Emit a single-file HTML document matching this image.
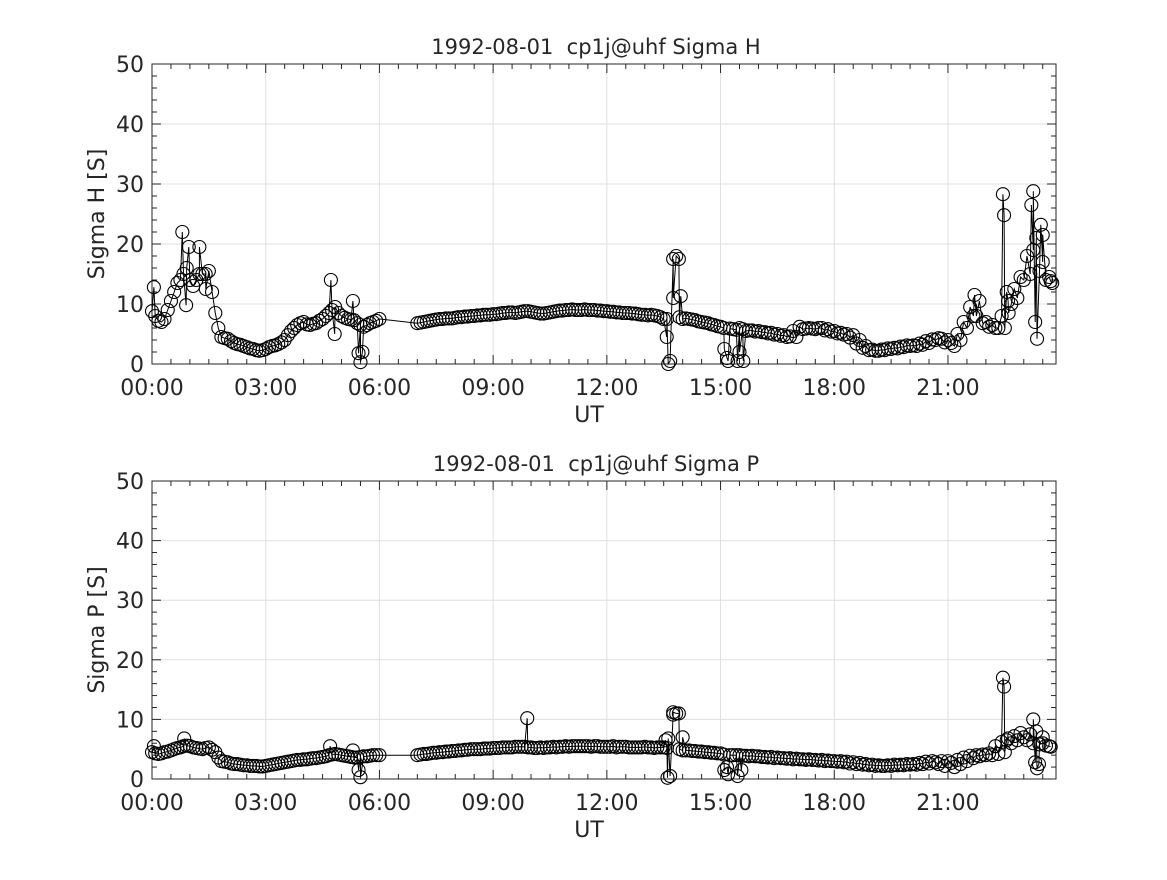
<!DOCTYPE html>
<html><head><meta charset="utf-8"><style>
body{margin:0;background:#fff;}
svg text{font-family:"DejaVu Sans","Liberation Sans",sans-serif;fill:#262626;}
</style></head><body>
<svg id="fig" width="1167" height="875" xmlns="http://www.w3.org/2000/svg"></svg>
<script>
const baseTH=[0,0.17,0.33,0.5,0.67,0.83,1.0,1.17,1.33,1.5,1.67,1.83,2.0,2.17,2.33,2.5,2.67,2.83,3.0,3.17,3.33,3.5,3.67,3.83,4.0,4.17,4.33,4.5,4.67,4.83,5.0,5.17,5.33,5.5,5.67,5.83,6.0,
7.0,7.17,7.33,7.5,7.67,7.83,8.0,8.17,8.33,8.5,8.67,8.83,9.0,9.17,9.33,9.5,9.67,9.83,10.0,10.17,10.33,10.5,10.67,10.83,11.0,11.17,11.33,11.5,11.67,11.83,12.0,12.17,12.33,12.5,12.67,12.83,13.0,13.17,13.33,13.5,13.67,13.83,14.0,14.17,14.33,14.5,14.67,14.83,15.0,15.17,15.33,15.5,15.67,15.83,16.0,16.17,16.33,16.5,16.67,16.83,17.0,17.17,17.33,17.5,17.67,17.83,18.0,18.17,18.33,18.5,18.67,18.83,19.0,19.17,19.33,19.5,19.67,19.83,20.0,20.17,20.33,20.5,20.67,20.83,21.0,21.17,21.33,21.5,21.67,21.83,22.0,22.17,22.33,22.5,22.67,22.83,23.0,23.17,23.33,23.5,23.67,23.75];
const baseVH=[8.8,7.2,7.5,10.5,13.5,15,14,14,15,15.5,8.5,4.5,4.2,3.5,3.2,2.8,2.5,2.2,2.5,3,3.3,4,5.5,6.5,7,6.5,6.8,7.5,8.5,9.5,8,7.5,7.3,6.5,6.5,7,7.5,
6.8,7,7.2,7.4,7.5,7.6,7.7,7.8,7.9,8,8.1,8.2,8.3,8.4,8.5,8.6,8.6,8.8,8.7,8.5,8.4,8.6,8.8,8.9,9,9,9,9,9,8.9,8.8,8.7,8.6,8.5,8.4,8.3,8.2,8.2,8,7.5,0.5,18,7.5,7.5,7.3,7,6.8,6.5,6.2,1,5.8,6,5.5,5.6,5.5,5.3,5.2,5,4.8,4.6,4.5,5.8,6,5.8,6,5.8,5.5,5.2,5,4.8,4,3,2.4,2.2,2.3,2.5,2.6,2.8,3,3,3.2,3.5,4,4.2,4,3,4,6,8,10.5,7,6.5,6,6,10,11,14,15,21,17,14.5,13.5];
const midVH=[8,7,9,12,14,16,13,15,15,12,6,4.3,3.8,3.3,3,2.6,2.3,2.3,2.8,3.1,3.6,4.8,6,6.8,6.6,6.7,7.2,8,9,8.5,7.7,7.4,6.8,6.2,6.8,7.2,
6.9,7.1,7.3,7.5,7.6,7.6, 7.8,7.9,8,8.1,8.2,8.2, 8.3,8.5,8.6,8.5,8.7,8.8, 8.6,8.4,8.5,8.7,8.9,9, 9.1,9,9.1,9,8.9,8.8, 8.7,8.6,8.5,8.5,8.4,8.2,
8.1,8.1,7.8,7.5,17.5,7.8, 7.6,7.4,7.1,6.9,6.6,6.3, 6,5.9,5.7,5.8,5.6,5.4, 5.3,5.1,4.9,4.7,4.5,5.5, 6.2,5.9,5.9,6,5.6,5.4, 5.1,4.9,4.4,3.4,2.7,2.3,
2.2,2.4,2.6,2.7,2.9,3.1, 3.1,3.4,3.8,4.1,4.3,3.6, 3.5,5,7,9.5,8,6.8, 6.2,6,8,10.5,12.5,14.5, 18,19,15.5,14,13.8];
const spikeTH=[0.05,0.8,0.9,0.97,1.25,1.42,4.72,4.82,5.3,5.45,5.5,5.55,13.58,13.62,13.75,13.9,13.95,15.1,15.2,15.45,15.5,15.6,21.7,22.45,22.48,22.55,22.6,23.2,23.25,23.3,23.35,23.45,23.5];
const spikeVH=[12.8,22,9.8,19.5,19.5,12.5,14,5,10.5,1.8,0.3,2,4.5,0,11,17.5,11.3,2.5,0.5,0.5,2,0.5,11.5,28.3,24.8,12,8.5,26.5,28.8,7,4.2,23.2,21.5];
const baseVP=[4.5,4.2,4.5,4.8,5.2,5.5,5.5,5.2,5,5.3,4.5,3,2.8,2.5,2.4,2.3,2.2,2.1,2.2,2.4,2.6,2.8,3,3.2,3.3,3.4,3.5,3.7,4,4.2,4,3.8,3.6,3.7,3.8,4,4,
4,4.2,4.3,4.4,4.5,4.6,4.7,4.8,4.9,5,5,5.1,5.2,5.2,5.3,5.3,5.4,5.4,5.3,5.2,5.2,5.3,5.3,5.4,5.4,5.5,5.5,5.5,5.5,5.4,5.4,5.5,5.4,5.4,5.3,5.3,5.4,5.3,5.3,5.3,0.5,11,4.8,4.8,4.7,4.6,4.5,4.4,4.3,2,4,4,3.9,3.9,3.8,3.7,3.7,3.6,3.5,3.5,3.4,3.3,3.3,3.2,3.2,3.1,3,3,2.9,2.8,2.7,2.5,2.4,2.3,2.2,2.2,2.3,2.3,2.4,2.4,2.5,2.6,2.8,3,3,2,2.5,3,3.5,3.8,4,4,4.2,4.5,6,6.5,7,7.5,8,6,5.5];
const midVP=[4.3,4.3,4.6,5,5.3,5.6,5.3,5.1,5.2,4.9,3.6,2.9,2.6,2.5,2.3,2.2,2.2,2.1,2.3,2.5,2.7,2.9,3.1,3.2,3.3,3.5,3.6,3.8,4.1,4.1,3.9,3.7,3.6,3.8,3.9,4,
4.1,4.2,4.4,4.5,4.6,4.7, 4.8,4.9,5,5,5.1,5.1, 5.2,5.3,5.3,5.4,5.4,5.3, 5.2,5.3,5.3,5.4,5.4,5.5, 5.5,5.5,5.5,5.4,5.5,5.4, 5.4,5.3,5.4,5.3,5.3,5.3,
5.3,5.2,5.3,5.2,10.8,5, 4.8,4.7,4.6,4.5,4.4,4.3, 4.1,4,4,3.9,3.8,3.8, 3.7,3.6,3.5,3.5,3.4,3.3, 3.3,3.2,3.2,3.1,3,3, 2.9,2.8,2.6,2.5,2.4,2.3,
2.2,2.2,2.3,2.4,2.4,2.5, 2.5,2.7,2.9,3,2.5,2.2, 2.7,3.2,3.6,3.9,4,4.1, 4.3,5.5,6.2,6.8,7.2,7.7, 6.5,6,5.8,5.6,5.4];
const spikeTP=[0.05,0.85,4.7,5.3,5.45,5.5,9.9,13.55,13.6,13.62,13.75,13.9,14.0,15.1,15.2,15.45,15.55,22.45,22.48,22.55,23.25,23.3,23.35,23.4,23.5];
const spikeVP=[5.5,6.8,5.5,4.8,1.5,0.3,10.2,6.5,0.2,6.8,11.2,11,7,1.5,0.8,0.5,1.5,17,15.5,6.5,10,2.8,1.8,2.5,7];
const xTickLabels=["00:00","03:00","06:00","09:00","12:00","15:00","18:00","21:00"];
const yTickLabels=["0","10","20","30","40","50"];

const NS="http://www.w3.org/2000/svg";
const svg=document.getElementById('fig');
function mk(tag,attrs,parent){const e=document.createElementNS(NS,tag);for(const k in attrs)e.setAttribute(k,attrs[k]);(parent||svg).appendChild(e);return e;}
function merge(tb,vb,vm,ts,vs){
  const a=[];
  tb.forEach((t,i)=>{if(vb[i]!==undefined)a.push([t,vb[i]]);});
  let j=0;
  for(let i=0;i<tb.length-1;i++){
    if(tb[i+1]-tb[i]<0.5){ if(vm[j]!==undefined)a.push([(tb[i]+tb[i+1])/2,vm[j]]); j++; }
  }
  ts.forEach((t,i)=>{if(vs[i]!==undefined)a.push([t,vs[i]]);});
  a.sort((p,q)=>p[0]-q[0]);return a;
}
const L=152,R=1056,XMAX=23.85;
function drawPanel(top,bot,title,ylabel,pts,pfx){
  const xs=t=>L+t/XMAX*(R-L), ys=v=>bot-v/50*(bot-top);
  const g=mk('g',{});
  
  
  for(let h=0;h<=21;h+=3){const l=mk('line',{x1:xs(h),x2:xs(h),y1:top,y2:bot,stroke:'#dfdfdf','stroke-width':1},g);
    }
  for(let v=10;v<50;v+=10){const l=mk('line',{x1:L,x2:R,y1:ys(v),y2:ys(v),stroke:'#dfdfdf','stroke-width':1},g);
    }
  for(let h=0;h<=23.5;h+=0.5){const len=(h%3===0)?9:5;
    mk('line',{x1:xs(h),x2:xs(h),y1:bot,y2:bot-len,stroke:'#262626'},g);
    mk('line',{x1:xs(h),x2:xs(h),y1:top,y2:top+len,stroke:'#262626'},g);}
  for(let v=0;v<=50;v+=2){const len=(v%10===0)?9:5;
    mk('line',{x1:L,x2:L+len,y1:ys(v),y2:ys(v),stroke:'#262626'},g);
    mk('line',{x1:R,x2:R-len,y1:ys(v),y2:ys(v),stroke:'#262626'},g);}
  const box=mk('rect',{x:L,y:top,width:R-L,height:bot-top,fill:'none',stroke:'#262626','stroke-width':1},g);
  
  xTickLabels.forEach((s,i)=>{const t=mk('text',{x:xs(i*3),y:bot+31,'text-anchor':'middle','font-size':22},g);t.textContent=s;
    });
  yTickLabels.forEach((s,i)=>{const t=mk('text',{x:L-8,y:ys(i*10)+8,'text-anchor':'end','font-size':22},g);t.textContent=s;
    });
  const xt=mk('text',{x:(L+R)/2-15,y:bot+58,'text-anchor':'middle','font-size':22},g);xt.textContent='UT';
  
  const yt=mk('text',{x:0,y:0,'text-anchor':'middle','font-size':22,transform:`translate(104,${(top+bot)/2}) rotate(-90)`},g);yt.textContent=ylabel;
  
  const tt=mk('text',{x:(L+R)/2-8,y:top-10,'text-anchor':'middle','font-size':21},g);tt.textContent=title;
  
  const line=mk('polyline',{points:pts.map(p=>xs(p[0]).toFixed(1)+','+ys(p[1]).toFixed(1)).join(' '),fill:'none',stroke:'#000','stroke-width':1},g);
  
  pts.forEach(p=>{const c=mk('circle',{cx:xs(p[0]),cy:ys(p[1]),r:6.5,fill:'none',stroke:'#000','stroke-width':1.1},g);
    });
}
drawPanel(64,364,'1992-08-01\u00a0\u00a0cp1j@uhf Sigma H','Sigma H [S]',merge(baseTH,baseVH,midVH,spikeTH,spikeVH),'sigma-h');
drawPanel(481,779,'1992-08-01\u00a0\u00a0cp1j@uhf Sigma P','Sigma P [S]',merge(baseTH,baseVP,midVP,spikeTP,spikeVP),'sigma-p');
</script>
</body></html>
